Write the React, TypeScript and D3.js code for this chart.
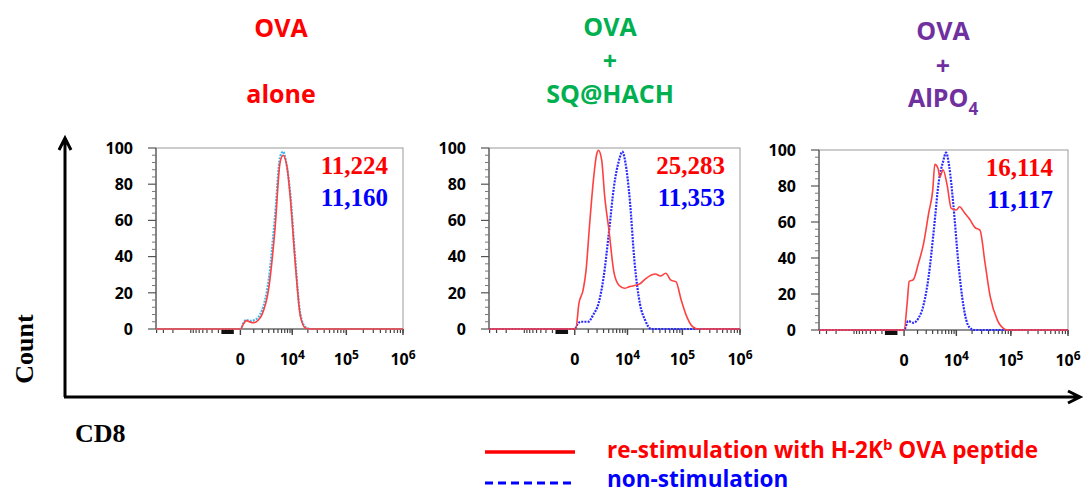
import React from 'react';
import * as d3 from 'd3';

// ---------- data ----------
const panelTitles: string[][] = [
  ['OVA', 'alone'],
  ['OVA', '+', 'SQ@HACH'],
  ['OVA', '+', 'AlPO'],
];
const titleColors = ['#ff0000', '#00b050', '#7030a0'];

const restimMFI = ['11,224', '25,283', '16,114'];
const nonstimMFI = ['11,160', '11,353', '11,117'];

const yTicks = [0, 20, 40, 60, 80, 100];
const xTickLabels = [
  { v: 0, base: '0', sup: '' },
  { v: 1e4, base: '10', sup: '4' },
  { v: 1e5, base: '10', sup: '5' },
  { v: 1e6, base: '10', sup: '6' },
];

// [CD8 intensity, % of max]
const p1Restim: [number, number][] = [
  [-41000, 0], [0, 0], [200, 3], [395, 4.6], [700, 3.8], [990, 3.5], [1500, 5], [1920, 7.7],
  [3030, 23], [4265, 55], [5560, 92], [6470, 96], [7880, 89], [9100, 73], [11500, 36],
  [14450, 7], [18060, 0.5], [22500, 0], [1e6, 0],
];
const p1Nonstim: [number, number][] = [
  [-41000, 0], [0, 0], [200, 3.5], [320, 5], [700, 4.5], [1100, 5], [1920, 10], [3030, 28],
  [4265, 62], [5560, 95], [6470, 98], [7500, 92], [9100, 75], [11500, 38], [14450, 8],
  [18060, 1], [22500, 0], [1e6, 0],
];
const p2Restim: [number, number][] = [
  [-41000, 0], [60, 0], [250, 14], [555, 21.6], [800, 32.7], [1090, 55], [1535, 82], [1920, 96],
  [2200, 98.7], [2680, 93.5], [3215, 73], [4035, 55], [5280, 31], [6800, 24], [8670, 22.5],
  [10970, 23.4], [12600, 23.8], [17280, 25], [22500, 28], [33180, 30.4], [41100, 29.3],
  [50780, 30.8], [62720, 27], [77300, 26], [95200, 16], [122200, 6], [150600, 1.3],
  [185400, 0], [1e6, 0],
];
const p2Nonstim: [number, number][] = [
  [-41000, 0], [0, 0], [185, 3], [395, 4], [990, 4], [1535, 8], [2200, 14], [3030, 29],
  [4035, 53], [5280, 79], [6800, 93.5], [7880, 98], [9100, 92], [10970, 73], [13800, 36],
  [17280, 14], [21520, 5], [27930, 0], [1e6, 0],
];
const p3Restim: [number, number][] = [
  [-41000, 0], [0, 0], [185, 15], [320, 27], [630, 28], [1090, 37], [1660, 48], [2360, 65],
  [3030, 78], [3400, 92], [4035, 90], [4500, 85], [5280, 89], [6470, 80.5], [7880, 67.6],
  [10000, 66.7], [11500, 68.5], [14450, 65], [18060, 61.5], [22500, 57], [27930, 55.5],
  [34650, 37], [42870, 18.5], [57640, 5.5], [77300, 0.5], [87700, 0], [1e6, 0],
];
const p3Nonstim: [number, number][] = [
  [-41000, 0], [0, 0], [250, 5], [630, 4], [1090, 6.5], [1660, 14], [2360, 30], [3215, 55.5],
  [4265, 83], [5280, 93.5], [6160, 98.5], [7150, 91], [8670, 70], [10970, 37], [13800, 13],
  [17280, 2], [21520, 0], [1e6, 0],
];
const restimSeries = [p1Restim, p2Restim, p3Restim];
const nonstimSeries = [p1Nonstim, p2Nonstim, p3Nonstim];

const legendLabels = ['re-stimulation with H-2K', 'non-stimulation'];

// ---------- layout ----------
const W = 1084;
const H = 492;
const panels = [
  { left: 156, right: 403, top: 148, bottom: 329, cx: 281, titleY: [37, 103], nonColor: '#3cb6ee' },
  { left: 489, right: 740, top: 148, bottom: 329, cx: 610, titleY: [36, 70, 103], nonColor: '#2a2aff' },
  { left: 819, right: 1068, top: 150, bottom: 330, cx: 943, titleY: [40, 75, 107], nonColor: '#2a2aff' },
];
const X_DOMAIN: [number, number] = [-41000, 1e6];
const SYMLOG_C = 1400;

const denseXTicks: number[] = d3.range(500, 1501, 100).map((v) => -v);
const minorXTicks: number[] = (() => {
  const t: number[] = [];
  for (let n = 3; n <= 4; n++) for (let k = 2; k <= 9; k++) {
    const v = -k * Math.pow(10, n);
    if (v >= X_DOMAIN[0]) t.push(v);
  }
  for (let n = 3; n <= 5; n++) for (let k = 1; k <= 9; k++) t.push(k * Math.pow(10, n));
  t.push(1e6);
  return t;
})();

const labelFont = '"Open Sans", sans-serif';
const serif = '"Liberation Serif", "Times New Roman", serif';

function Panel({ i }: { i: number }) {
  const p = panels[i];
  const x = d3.scaleSymlog().constant(SYMLOG_C).domain(X_DOMAIN).range([p.left, p.right]);
  const y = d3.scaleLinear().domain([0, 100]).range([p.bottom, p.top]);
  const line = d3
    .line<[number, number]>()
    .x((d) => x(d[0]))
    .y((d) => y(d[1]))
    .curve(d3.curveMonotoneX);
  const minorY = d3.range(0, 101, 4).filter((v) => v % 20 !== 0);
  return (
    <g>
      {/* frame */}
      <rect x={p.left} y={p.top} width={p.right - p.left} height={p.bottom - p.top} fill="none" stroke="#9a9a9a" strokeWidth={1} />
      <line x1={p.left} x2={p.left} y1={p.top} y2={p.bottom} stroke="#555" strokeWidth={1.2} />
      <line x1={p.left} x2={p.right} y1={p.bottom} y2={p.bottom} stroke="#555" strokeWidth={1.2} />
      {/* y ticks */}
      {yTicks.map((t) => (
        <g key={'y' + t}>
          <line x1={p.left - 8} x2={p.left} y1={y(t)} y2={y(t)} stroke="#555" strokeWidth={1.2} />
          <text x={p.left - 23} y={y(t)} dy="0.36em" textAnchor="end" fontFamily={labelFont} fontWeight="bold" fontSize={16} fill="#000">
            {t}
          </text>
        </g>
      ))}
      {minorY.map((t) => (
        <line key={'my' + t} x1={p.left - 4} x2={p.left} y1={y(t)} y2={y(t)} stroke="#777" strokeWidth={1} />
      ))}
      {/* x ticks */}
      {minorXTicks.map((t, j) => (
        <line key={'mx' + j} x1={x(t)} x2={x(t)} y1={p.bottom} y2={p.bottom + 4} stroke="#444" strokeWidth={1.2} />
      ))}
      {denseXTicks.map((t, j) => (
        <line key={'dx' + j} x1={x(t)} x2={x(t)} y1={p.bottom} y2={p.bottom + 5} stroke="#111" strokeWidth={2} />
      ))}
      {xTickLabels.map((t) => (
        <g key={'x' + t.v}>
          <line x1={x(t.v)} x2={x(t.v)} y1={p.bottom} y2={p.bottom + 6} stroke="#444" strokeWidth={1.4} />
          <text x={x(t.v)} y={p.bottom + 36} textAnchor="middle" fontFamily={labelFont} fontWeight="bold" fontSize={16} fill="#000">
            {t.base}
            {t.sup && (
              <tspan dy="-6" fontSize={12}>
                {t.sup}
              </tspan>
            )}
          </text>
        </g>
      ))}
      {/* curves */}
      <path d={line(nonstimSeries[i]) || ''} fill="none" stroke={p.nonColor} strokeWidth={2.2} strokeDasharray="2,1.2" />
      <path d={line(restimSeries[i]) || ''} fill="none" stroke="#ff4040" strokeWidth={1.6} />
      {/* MFI */}
      <text x={p.right - 15} y={p.top + 26} textAnchor="end" fontFamily={serif} fontWeight="bold" fontSize={25} fill="#ff0000">
        {restimMFI[i]}
      </text>
      <text x={p.right - 15} y={p.top + 58} textAnchor="end" fontFamily={serif} fontWeight="bold" fontSize={25} fill="#0000ff">
        {nonstimMFI[i]}
      </text>
      {/* title */}
      {panelTitles[i].map((s, k) => (
        <text key={'t' + k} x={p.cx} y={p.titleY[k]} textAnchor="middle" fontFamily={labelFont} fontWeight="bold" fontSize={25} fill={titleColors[i]}>
          {s}
          {i === 2 && k === 2 && (
            <tspan dy="8" fontSize={17}>
              4
            </tspan>
          )}
        </text>
      ))}
    </g>
  );
}

export default function App() {
  return (
    <svg width={W} height={H} style={{ position: 'absolute', left: 0, top: 0, background: '#fff' }}>
      <rect width={W} height={H} fill="#fff" />
      {/* big axes */}
      <path d="M65,397 L65,139 M59,150 L65,138 L71,150" fill="none" stroke="#000" strokeWidth={3} />
      <path d="M64,397 L1079,397 M1068,391 L1080,397 L1068,403" fill="none" stroke="#000" strokeWidth={3} />
      <text transform="translate(33,349) rotate(-90)" textAnchor="middle" fontFamily={serif} fontWeight="bold" fontSize={26} fill="#000">
        Count
      </text>
      <text x={75} y={442} fontFamily={serif} fontWeight="bold" fontSize={26} fill="#000">
        CD8
      </text>
      {panels.map((_, i) => (
        <Panel key={i} i={i} />
      ))}
      {/* legend */}
      <line x1={485} x2={575} y1={452} y2={452} stroke="#ff0000" strokeWidth={3.5} />
      <line x1={485} x2={575} y1={483} y2={483} stroke="#0000ff" strokeWidth={3} strokeDasharray="8,5" />
      <text x={607} y={458} fontFamily={labelFont} fontWeight="bold" fontSize={22.5} fill="#ff0000">
        {legendLabels[0]}
        <tspan dy="-8" fontSize={15}>b</tspan>
        <tspan dy="8"> OVA peptide</tspan>
      </text>
      <text x={607} y={487} fontFamily={labelFont} fontWeight="bold" fontSize={22.5} fill="#0000ff">
        {legendLabels[1]}
      </text>
    </svg>
  );
}
